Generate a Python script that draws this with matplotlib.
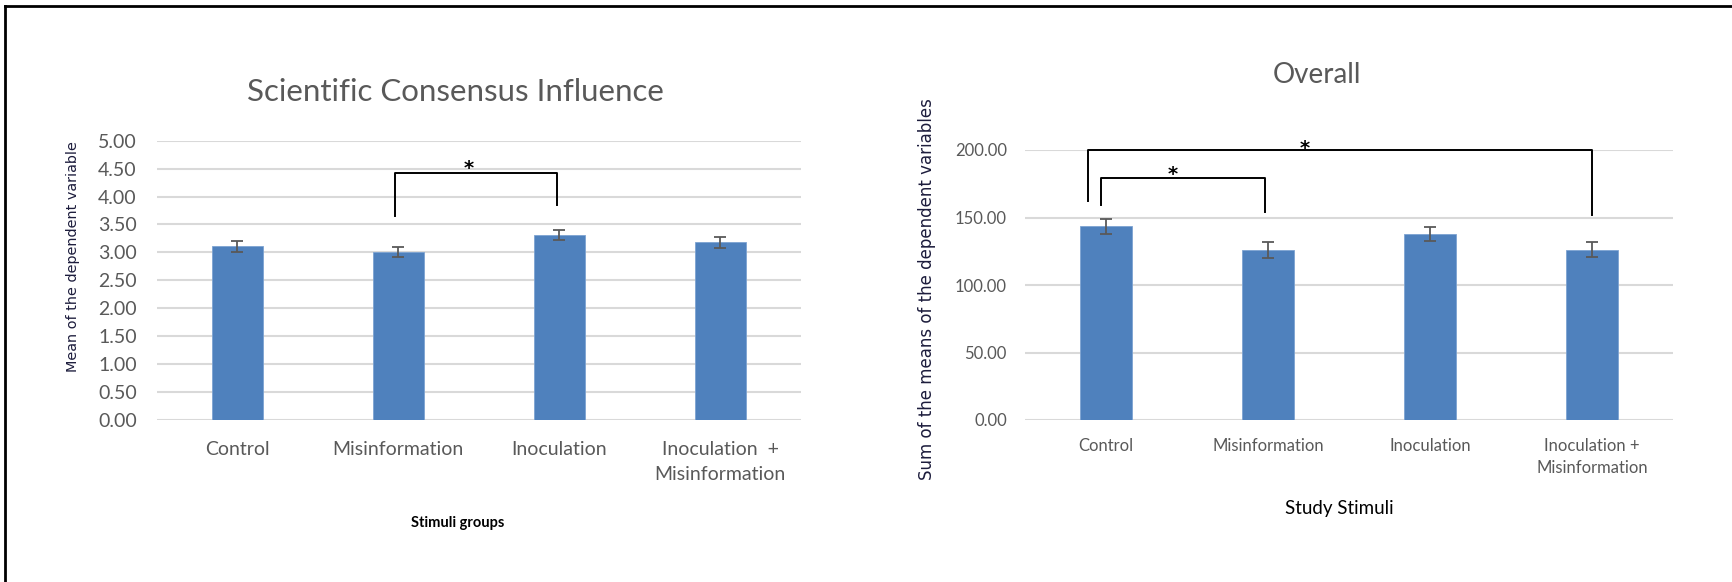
import numpy as np
import matplotlib.pyplot as plt
from matplotlib.lines import Line2D

# 数据
groups_left = ["Control", "Misinformation", "Inoculation", "Inoculation  +\nMisinformation"]
groups_right = ["Control", "Misinformation", "Inoculation", "Inoculation +\nMisinformation"]

consensus_mean = [3.11, 3.01, 3.31, 3.18]
consensus_err = [0.10, 0.09, 0.09, 0.10]

overall_sum = [143.5, 126.2, 137.8, 126.2]
overall_err = [5.4, 5.9, 5.3, 5.3]

left_ticks = np.arange(0, 5.01, 0.5)
right_ticks = np.arange(0, 200.1, 50)

# 显著性括号: (左端, 右端, 横线高度, 左腿下端, 右腿下端, 星号x, 星号y)
left_brackets = [(0.98, 1.985, 4.43, 3.65, 3.85, 1.44, 4.61)]
right_brackets = [(-0.112, 3.0, 200.0, 162.4, 151.9, 1.226, 205.4),
                  (-0.033, 0.983, 179.0, 159.0, 154.3, 0.41, 185.7)]

BAR = "#4F81BD"
GRID = "#D9D9D9"
TXT = "#595959"
W, H = 1732, 582

plt.rcParams['font.family'] = ['Lato', 'DejaVu Sans']


def fx(px):
    return px / W


def fy(py):
    return 1 - py / H


def draw_panel(ax, labels, vals, errs, ticks, top, tick_size, pad, lsp):
    x = np.arange(len(vals))
    ax.bar(x, vals, width=0.317, yerr=errs, color=BAR, edgecolor="#7DA3D2", linewidth=0.6,
           error_kw=dict(ecolor=TXT, elinewidth=1.3, capsize=4.5, capthick=1.3), zorder=2)
    ax.set_xlim(-0.5, len(vals) - 0.5)
    ax.set_ylim(0, top)
    ax.set_yticks(ticks)
    ax.set_yticklabels(["%.2f" % t for t in ticks])
    ax.set_xticks(x)
    ax.set_xticklabels(labels, linespacing=lsp)
    ax.yaxis.grid(True, color=GRID, linewidth=1.5)
    ax.set_axisbelow(True)
    for s in ax.spines.values():
        s.set_visible(False)
    ax.tick_params(axis="both", length=0, colors=TXT, labelsize=tick_size)
    ax.tick_params(axis="y", pad=pad[0])
    ax.tick_params(axis="x", pad=pad[1])


def draw_brackets(ax, brackets, size):
    for x0, x1, yh, yb0, yb1, sx, sy in brackets:
        ax.plot([x0, x0, x1, x1], [yb0, yh, yh, yb1], color="black", lw=1.4,
                clip_on=False, zorder=3)
        ax.annotate("*", xy=(sx, sy), xytext=(0, -8), textcoords="offset points",
                    ha="center", va="baseline", fontsize=size, fontweight="bold",
                    family="DejaVu Sans", color="black", annotation_clip=False)


fig = plt.figure(figsize=(W / 100, H / 100), dpi=100)

# 左图
ax1 = fig.add_axes([fx(156.7), fy(420), (800.7 - 156.7) / W, (420 - 140.7) / H])
draw_panel(ax1, groups_left, consensus_mean, consensus_err, left_ticks, 5.0, 14,
           (14.4, 15), 1.55)
draw_brackets(ax1, left_brackets, 14)

fig.text(fx(455), fy(101), "Scientific Consensus Influence", ha="center", va="baseline",
         fontsize=22.5, color=TXT)
fig.text(fx(458), fy(527), "Stimuli groups", ha="center", va="baseline",
         fontsize=10.5, fontweight="bold", color="black")
fig.text(fx(73), fy(257), "Mean of the dependent variable", ha="center", va="center",
         rotation=90, fontsize=10.4, family="DejaVu Sans", color="#1c1c3c")

# 右图
ax2 = fig.add_axes([fx(1025), fy(420), 648 / W, (420 - 150) / H])
draw_panel(ax2, groups_right, overall_sum, overall_err, right_ticks, 200.0, 12,
           (13, 13), 1.45)
draw_brackets(ax2, right_brackets, 14)

fig.text(fx(1317), fy(83), "Overall", ha="center", va="baseline", fontsize=20, color=TXT)
fig.text(fx(1339), fy(514), "Study Stimuli", ha="center", va="baseline",
         fontsize=13.5, color="black")
fig.text(fx(927), fy(289), "Sum of the means of the dependent variables", ha="center",
         va="center", rotation=90, fontsize=12, family="DejaVu Sans", color="#1c1c3c")

# 外框
fig.add_artist(Line2D([fx(5), 1], [fy(6), fy(6)], color="black", lw=2))
fig.add_artist(Line2D([fx(5), fx(5)], [fy(6), 0], color="black", lw=2))

fig.savefig("out.png", dpi=100)
